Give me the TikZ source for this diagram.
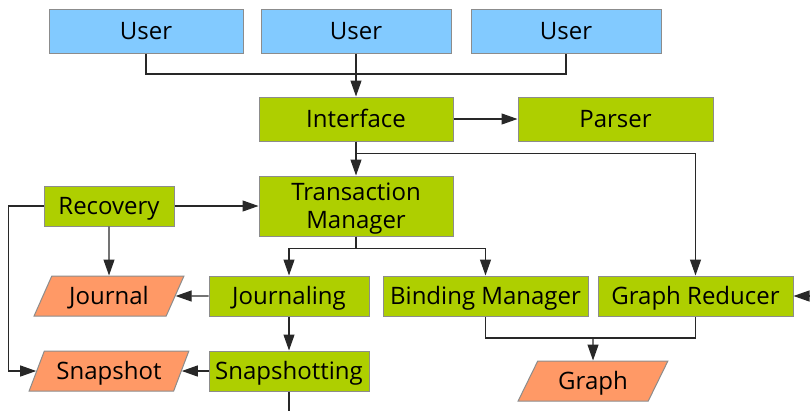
\documentclass[tikz,border=0pt]{standalone}
\usepackage{fontspec}
\setmainfont{Open Sans}
\usetikzlibrary{arrows.meta,shapes.geometric}
\definecolor{ublue}{RGB}{130,202,255}
\definecolor{ugreen}{RGB}{174,207,0}
\definecolor{uorange}{RGB}{255,153,102}
\definecolor{uborder}{RGB}{140,140,140}
\definecolor{uline}{RGB}{40,40,40}
\begin{document}
\begin{tikzpicture}[x=1pt,y=-1pt,
  box/.style={draw=uborder,line width=1pt,inner sep=0pt,
    font=\fontsize{24}{28}\selectfont,text=black,
    text height=17pt,text depth=0pt},
  userbox/.style={box,fill=ublue,minimum height=44pt},
  procbox/.style={box,fill=ugreen,minimum height=40pt},
  databox/.style={box,fill=uorange,shape=trapezium,trapezium left angle=54,
    trapezium right angle=126,trapezium stretches=true,minimum height=40pt},
  conn/.style={draw=uline,line width=1.2pt},
  arr/.style={conn,-{Triangle[length=16pt,width=11pt]}}]
\useasboundingbox (0,0) rectangle (810,410);
% users
\node[userbox,minimum width=194pt] (u1) at (146,31) {User};
\node[userbox,minimum width=190pt] (u2) at (356,31) {User};
\node[userbox,minimum width=190pt] (u3) at (566,31) {User};
% process nodes
\node[procbox,minimum width=194pt,minimum height=44pt] (iface) at (356,119) {Interface};
\node[procbox,minimum width=195pt,minimum height=44pt] (parser) at (615.5,119) {Parser};
\node[procbox,minimum width=194pt,minimum height=60pt,align=center,
  text height=45pt,text depth=0pt] (tm) at (356,206) {Transaction\\Manager};
\node[procbox,minimum width=130pt] (rec) at (109,206) {Recovery};
\node[procbox,minimum width=160pt] (jing) at (289,296) {Journaling};
\node[procbox,minimum width=205pt] (bm) at (485.5,296) {Binding Manager};
\node[procbox,minimum width=195pt] (gr) at (695.5,296) {Graph Reducer};
\node[procbox,minimum width=160pt] (sing) at (289,371) {Snapshotting};
% data nodes
\node[databox,minimum width=150pt] (journal) at (109,296) {Journal};
\node[databox,minimum width=160pt] (snap) at (109,371) {Snapshot};
\node[databox,minimum width=150pt] (graph) at (593,381) {Graph};
% helper coordinates
\coordinate (ujoin) at (356,74);
\coordinate (gjoin) at (593,338);
\coordinate (grin) at (812,296);
\coordinate (sbot) at (289,412);
% connectors
\draw[conn] (u1.south) |- (ujoin) -| (u3.south);
\draw[arr] (u2.south) -- (iface.north);
\draw[arr] (iface) -- (parser);
\draw[arr] (iface.south) -- (tm.north);
\draw[arr] (iface.south) -- ++(0,12) -| (gr.north);
\draw[arr] (rec) -- (tm);
\draw[arr] (rec.south) -- (journal.north);
\draw[arr] (rec.west) -- ++(-35,0) |- (snap);
\draw[arr] (tm.south) -- ++(0,12) -| (jing.north);
\draw[arr] (tm.south) -- ++(0,12) -| (bm.north);
\draw[arr] (jing) -- (journal);
\draw[arr] (jing) -- (sing);
\draw[arr] (sing) -- (snap);
\draw[conn] (bm.south) |- (gjoin) -| (gr.south);
\draw[arr] (gjoin) -- (graph.north);
\draw[arr] (grin) -- (gr.east);
\draw[conn] (sing.south) -- (sbot);
\end{tikzpicture}
\end{document}
